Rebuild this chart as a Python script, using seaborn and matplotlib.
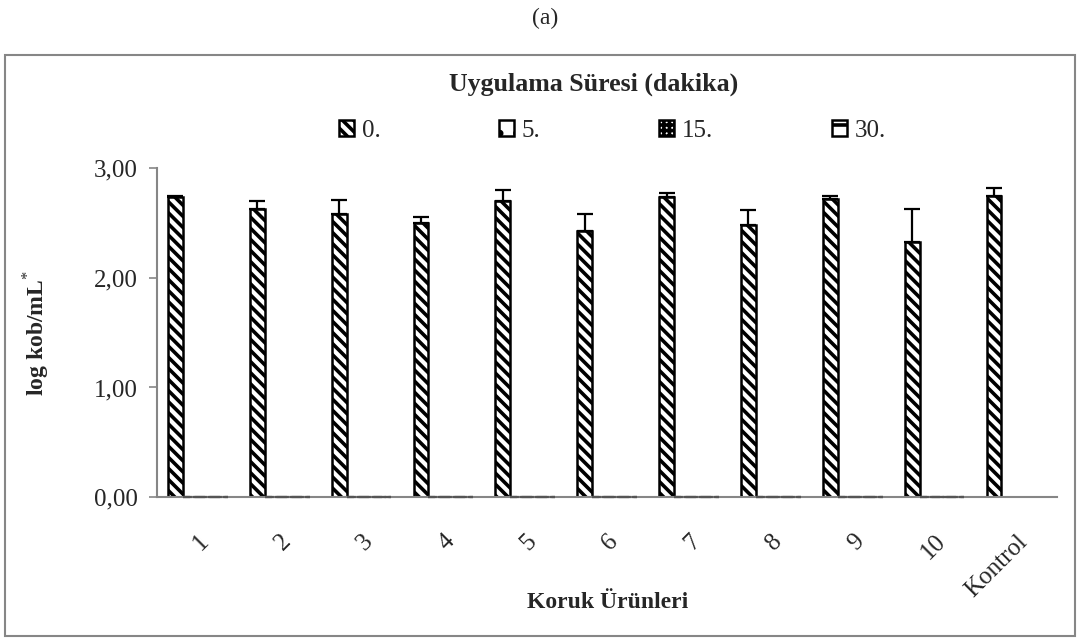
import pandas as pd
import numpy as np
import matplotlib
matplotlib.use('Agg')
import matplotlib.pyplot as plt
import matplotlib.patches as mpatches
import seaborn as sns

# veriler
urunler = ['1', '2', '3', '4', '5', '6', '7', '8', '9', '10', 'Kontrol']
sureler = ['0.', '5.', '15.', '30.']
deger_0 = [2.74, 2.63, 2.58, 2.50, 2.70, 2.43, 2.74, 2.48, 2.72, 2.33, 2.75]
hata_0 = [0.01, 0.07, 0.13, 0.05, 0.10, 0.15, 0.03, 0.14, 0.03, 0.30, 0.07]
deger_5 = [0, 0, 0, 0, 0, 0, 0, 0, 0, 0, np.nan]
deger_15 = [0, 0, 0, 0, 0, 0, 0, 0, 0, 0, np.nan]
deger_30 = [0, 0, 0, 0, 0, 0, 0, 0, 0, 0, np.nan]

df = pd.DataFrame({
    'urun': urunler * 4,
    'sure': [s for s in sureler for _ in urunler],
    'log': deger_0 + deger_5 + deger_15 + deger_30,
})

sns.set_theme(style='white')
plt.rcParams['font.family'] = ['Liberation Serif', 'DejaVu Serif']
plt.rcParams['mathtext.fontset'] = 'custom'
plt.rcParams['mathtext.rm'] = 'Liberation Serif'
plt.rcParams['mathtext.bf'] = 'Liberation Serif:bold'
plt.rcParams['hatch.linewidth'] = 2.6
plt.rcParams['hatch.color'] = 'black'

fig = plt.figure(figsize=(10.9, 6.44), dpi=100)
ax = fig.add_axes([0.144, 0.228, 0.826, 0.511])

sns.barplot(data=df, x='urun', y='log', hue='sure', hue_order=sureler,
            order=urunler, errorbar=None, width=0.73, dodge=True,
            color='white', edgecolor='black', linewidth=1.8,
            legend=False, ax=ax)

taramalar = ['\\\\\\', '.', '+++', '-']
for i, (cont, h) in enumerate(zip(ax.containers, taramalar)):
    for bar in cont:
        bar.set_facecolor('white')
        bar.set_hatch(h)
        bar.set_edgecolor('black')
        if i > 0:
            # sifir degerli cubuklar tabanda kisa cizgi gibi gorunur
            bar.set_edgecolor('#555555')
            bar.set_linewidth(1.6)
            bar.set_clip_on(False)
            bar.set_zorder(3)
            bar.set_linestyle((0, (4, 1.2)))

# hata cubuklari (sadece ust)
cubuklar = ax.containers[0]
xs = [b.get_x() + b.get_width() / 2 for b in cubuklar]
ax.errorbar(xs, deger_0, yerr=[np.zeros(len(hata_0)), hata_0], fmt='none',
            ecolor='black', elinewidth=1.6, capsize=6, capthick=1.6, zorder=5)

ax.set_xlim(-0.5, len(urunler) - 0.5)
ax.set_ylim(0, 3)
ax.set_yticks([0, 1, 2, 3])
ax.set_yticklabels(['0,00', '1,00', '2,00', '3,00'], fontsize=18)
ax.set_xticks(range(len(urunler)))
ax.set_xticklabels(urunler, fontsize=18, rotation=45, ha='right',
                   rotation_mode='anchor')
ax.tick_params(axis='y', length=6, color='#868686', width=1.2, left=True, pad=8)
ax.tick_params(axis='x', length=0, pad=24)
for s in ['top', 'right']:
    ax.spines[s].set_visible(False)
for s in ['left', 'bottom']:
    ax.spines[s].set_color('#868686')
    ax.spines[s].set_linewidth(1.5)

ax.set_xlabel('Koruk Ürünleri', fontsize=17, fontweight='bold', va='center')
ax.xaxis.set_label_coords(0.5, -0.319)
ax.set_ylabel(r'log kob/mL$^{*}$', fontsize=17, fontweight='bold', labelpad=30)

# lejant
tutamaclar = [mpatches.Patch(facecolor='white', edgecolor='black', hatch=h,
                             linewidth=1.8, label=s)
              for h, s in zip(taramalar, sureler)]
ax.legend(handles=tutamaclar, ncol=4, frameon=False, fontsize=18,
          loc='center', bbox_to_anchor=(0.562, 0.797),
          bbox_transform=fig.transFigure, handlelength=0.6, handleheight=0.6,
          handletextpad=0.3, columnspacing=4.75)

fig.text(0.545, 0.869, 'Uygulama Süresi (dakika)', fontsize=18.6,
         fontweight='bold', ha='center', va='center')
fig.text(0.5, 0.972, '(a)', fontsize=17, ha='center', va='center')

# dis cerceve
cerceve = mpatches.Rectangle((5 / 1090, 1 - 636 / 644), 1070 / 1090, 581 / 644,
                             transform=fig.transFigure, fill=False,
                             edgecolor='#868686', linewidth=1.5)
fig.patches.append(cerceve)

fig.savefig('out.png', dpi=100)
